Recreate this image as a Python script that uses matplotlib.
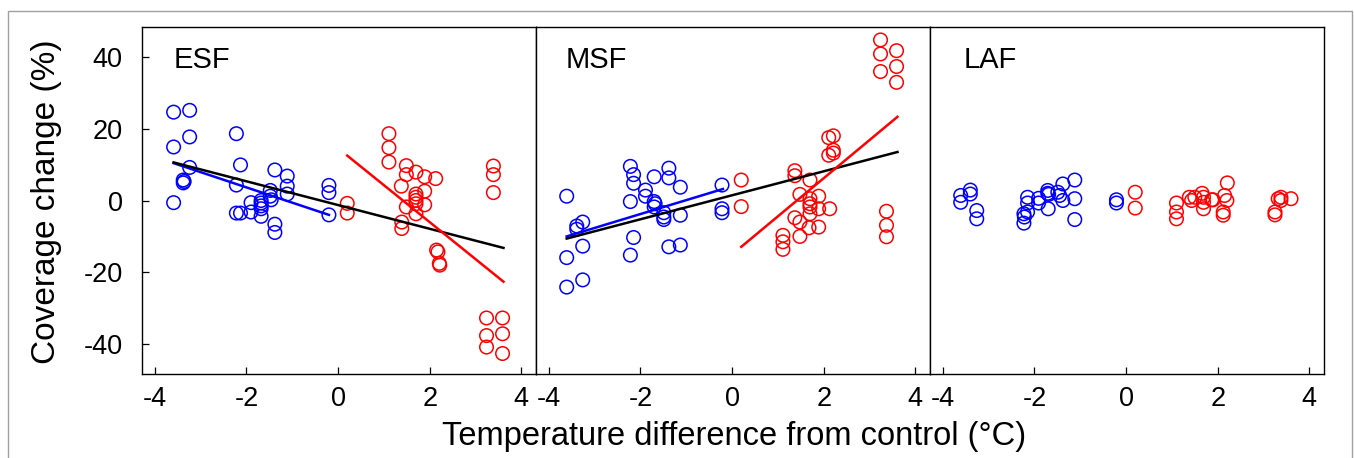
import numpy as np
import matplotlib.pyplot as plt
from matplotlib.patches import Rectangle

plt.rcParams['font.family'] = ['Liberation Sans', 'DejaVu Sans']
plt.rcParams['axes.unicode_minus'] = False

panels = ['ESF', 'MSF', 'LAF']

# ESF
esf_bx = [-3.59, -3.24, -3.59, -3.24, -3.24, -3.38, -3.38, -3.36, -3.59,
          -2.22, -2.13, -2.22, -2.22, -2.13, -1.90, -1.90,
          -1.68, -1.68, -1.68, -1.68, -1.68, -1.48, -1.48, -1.46,
          -1.38, -1.38, -1.38, -1.11, -1.11, -1.11, -0.20, -0.20, -0.20]
esf_by = [24.6, 25.1, 14.9, 17.7, 9.2, 5.7, 4.9, 5.3, -0.6,
          18.6, 9.9, 4.3, -3.5, -3.5, -0.6, -3.2,
          0.0, -0.7, -1.5, -2.3, -4.4, 2.8, 1.2, 0.2,
          8.5, -6.6, -8.9, 6.8, 4.0, 1.8, 4.2, 2.2, -4.0]
esf_rx = [0.20, 0.20, 1.11, 1.11, 1.11, 1.49, 1.49, 1.38, 1.39, 1.39,
          1.70, 1.89, 2.13, 1.89, 1.70, 1.70, 1.70, 1.70, 1.70, 1.49, 1.89,
          2.15, 2.18, 2.22, 2.21, 3.39, 3.39, 3.39,
          3.24, 3.24, 3.24, 3.59, 3.59, 3.59]
esf_ry = [-0.8, -3.5, 18.6, 14.7, 10.7, 9.7, 7.2, 4.0, -6.0, -7.8,
          7.9, 6.6, 6.1, 2.6, 1.8, 0.9, 0.0, -0.9, -3.7, -1.8, -1.2,
          -13.8, -14.3, -18.0, -17.5, 9.6, 7.2, 2.2,
          -32.7, -37.6, -40.8, -32.7, -37.1, -42.6]

# MSF
msf_bx = [-3.61, -3.61, -3.61, -3.39, -3.39, -3.26, -3.26, -3.26,
          -2.22, -2.15, -2.15, -2.22, -2.15, -2.22, -1.89, -1.89,
          -1.70, -1.70, -1.70, -1.68, -1.49, -1.49, -1.49,
          -1.38, -1.38, -1.38, -1.13, -1.13, -1.13, -0.22, -0.22, -0.22]
msf_by = [1.2, -15.9, -24.1, -7.1, -8.0, -6.0, -12.7, -22.1,
          9.5, 7.2, 4.8, -0.3, -10.3, -15.2, 2.9, 1.2,
          6.6, -0.3, -1.8, -0.9, -3.4, -4.6, -5.3,
          9.0, 6.3, -12.9, 3.7, -4.1, -12.4, 4.3, -2.3, -3.4]
msf_rx = [0.20, 0.20, 1.11, 1.11, 1.11, 1.37, 1.37, 1.37, 1.48, 1.48, 1.48,
          1.70, 1.70, 1.70, 1.70, 1.70, 1.68, 1.89, 1.89, 1.89, 2.13,
          2.11, 2.21, 2.11, 2.21, 2.21,
          3.24, 3.24, 3.24, 3.59, 3.59, 3.59, 3.37, 3.37, 3.37]
msf_ry = [5.7, -1.7, -9.7, -11.5, -13.6, 8.3, 6.9, -4.8, 1.7, -6.0, -10.0,
          5.7, 0.5, -0.9, -1.8, -3.7, -7.6, 1.2, -2.3, -7.4, -2.3,
          17.5, 18.0, 12.6, 14.0, 13.2,
          44.7, 40.8, 35.9, 41.7, 37.3, 32.9, -3.0, -6.9, -10.1]

# LAF
laf_bx = [-3.61, -3.61, -3.40, -3.40, -3.26, -3.26,
          -2.23, -2.23, -2.22, -2.15, -2.15, -2.15, -1.91, -1.91,
          -1.71, -1.71, -1.69, -1.70, -1.49, -1.45, -1.38, -1.38,
          -1.12, -1.12, -1.12, -0.21, -0.21]
laf_by = [1.4, -0.5, 2.9, 1.8, -2.8, -5.1,
          -3.7, -6.3, -4.6, -3.2, -0.7, 0.9, 0.6, -0.7,
          2.8, 2.0, 1.7, -2.3, 2.3, 1.4, 4.6, 0.0,
          5.7, 0.5, -5.3, 0.2, -0.7]
laf_rx = [0.20, 0.20, 1.10, 1.10, 1.10, 1.38, 1.43, 1.50,
          1.66, 1.69, 1.69, 1.69, 1.87, 1.90, 2.15, 2.20, 2.21, 2.12, 2.12,
          3.25, 3.25, 3.38, 3.38, 3.60, 3.32]
laf_ry = [2.3, -2.1, -0.7, -3.2, -5.1, 0.9, 0.0, 0.9,
          2.0, 0.9, -0.5, -2.3, 0.2, 0.2, 1.4, 0.0, 4.9, -3.2, -4.1,
          -3.2, -4.0, 0.9, 0.0, 0.5, 0.5]

# fitted lines: (x0, y0, x1, y1)
esf_lines = {'blue': (-3.59, 10.4, -0.20, -4.0),
             'black': (-3.59, 10.6, 3.61, -13.2),
             'red': (0.20, 12.5, 3.61, -22.6)}
msf_lines = {'blue': (-3.61, -10.0, -0.20, 3.2),
             'black': (-3.61, -10.6, 3.61, 13.5),
             'red': (0.20, -12.9, 3.61, 23.3)}

data = [(esf_bx, esf_by, esf_rx, esf_ry, esf_lines),
        (msf_bx, msf_by, msf_rx, msf_ry, msf_lines),
        (laf_bx, laf_by, laf_rx, laf_ry, None)]

fig = plt.figure(figsize=(13.54, 4.58), dpi=100)
fig.patches.append(Rectangle((8/1354, -0.1), (1352-8)/1354, 1.1 - 11/458,
                             transform=fig.transFigure, fill=False,
                             edgecolor='#a0a0a0', lw=1.0))

lefts = [142, 536, 930]
for i, (name, (bx, by, rx, ry, lines)) in enumerate(zip(panels, data)):
    ax = fig.add_axes([lefts[i]/1354, 1 - 374/458, 394/1354, 347/458])
    ax.scatter(bx, by, s=95, facecolors='none', edgecolors='#0000ff', lw=1.1, zorder=3)
    ax.scatter(rx, ry, s=95, facecolors='none', edgecolors='#ff0000', lw=1.1, zorder=3)
    if lines:
        for c, (x0, y0, x1, y1) in lines.items():
            col = {'blue': '#0000ff', 'red': '#ff0000', 'black': 'black'}[c]
            ax.plot([x0, x1], [y0, y1], color=col, lw=1.8, zorder=4)
    ax.set_xlim(-4.28, 4.32)
    ax.set_ylim(-48.3, 48.3)
    ax.set_xticks([-4, -2, 0, 2, 4])
    ax.set_yticks([-40, -20, 0, 20, 40])
    ax.tick_params(direction='in', length=5, width=0.9, labelsize=19.5, pad=9)
    ax.tick_params(axis='y', pad=14)
    if i > 0:
        ax.tick_params(axis='y', left=False, labelleft=False)
    for sp in ax.spines.values():
        sp.set_linewidth(1.0)
    ax.text(0.153, 0.945, name, transform=ax.transAxes, fontsize=21,
            ha='center', va='top')

fig.text(734/1354, 0.046, 'Temperature difference from control (\u00b0C)',
         ha='center', va='center', fontsize=23.5)
fig.text(46/1354, 1 - 202/458, 'Coverage change (%)', rotation=90,
         ha='center', va='center', fontsize=24)

plt.savefig('out.png', dpi=100)
